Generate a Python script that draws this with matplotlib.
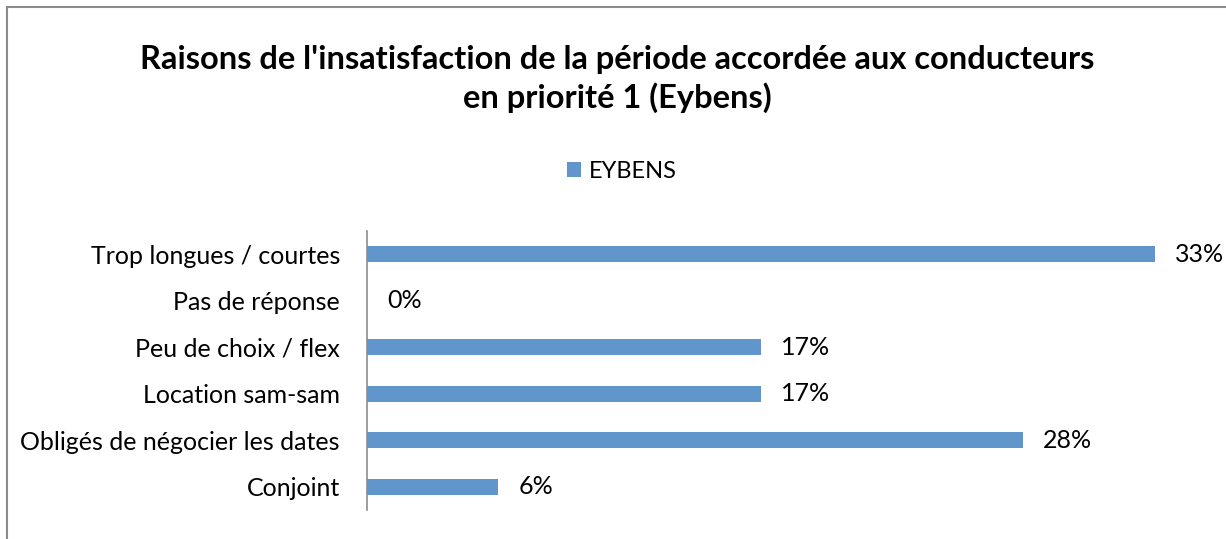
import matplotlib
matplotlib.use("Agg")
import matplotlib.pyplot as plt
from matplotlib.patches import Rectangle, Patch

plt.rcParams['font.family'] = ['Lato', 'DejaVu Sans']

categories = ["Trop longues / courtes", "Pas de réponse", "Peu de choix / flex",
              "Location sam-sam", "Obligés de négocier les dates", "Conjoint"]
values = [6/18, 0.0, 3/18, 3/18, 5/18, 1/18]
labels = ["33%", "0%", "17%", "17%", "28%", "6%"]
series_name = "EYBENS"
title = "Raisons de l'insatisfaction de la période accordée aux conducteurs\nen priorité 1 (Eybens)"

color = "#6096CB"

fig = plt.figure(figsize=(12.26, 5.39), dpi=100)
fig.patches.append(Rectangle((7/1226, -0.1), 1.2, (539-7)/539 + 0.1, transform=fig.transFigure,
                             fill=False, edgecolor="#8c8c8c", linewidth=1.5))

ax = fig.add_axes([367/1226, (539-510)/539, 827/1226, 279/539])
y = list(range(len(categories)))
ax.barh(y, values, height=0.35, color=color)
ax.set_ylim(len(categories) - 0.5, -0.5)
ax.set_xlim(0, 0.35)
ax.set_yticks(y)
ax.set_yticklabels(categories, fontsize=18)
ax.tick_params(axis='y', length=0, pad=19.5)
ax.set_xticks([])
for s in ["top", "right", "bottom"]:
    ax.spines[s].set_visible(False)
ax.spines["left"].set_color("#8c8c8c")
ax.spines["left"].set_linewidth(1.2)

for yi, v, lab in zip(y, values, labels):
    ax.annotate(lab, xy=(v, yi), xytext=(20, 0), textcoords="offset pixels",
                ha="left", va="center", fontsize=18)

fig.text(617/1226, 1 - 79/539, title, ha="center", va="center", fontsize=23.5,
         fontweight="bold", linespacing=1.3)

fig.legend(handles=[Patch(facecolor=color, label=series_name)], loc="center",
           bbox_to_anchor=(622/1226, 1 - 171/539), frameon=False, fontsize=17,
           handlelength=0.6, handleheight=0.6, handletextpad=0.35)

fig.savefig("out.png", dpi=100)
